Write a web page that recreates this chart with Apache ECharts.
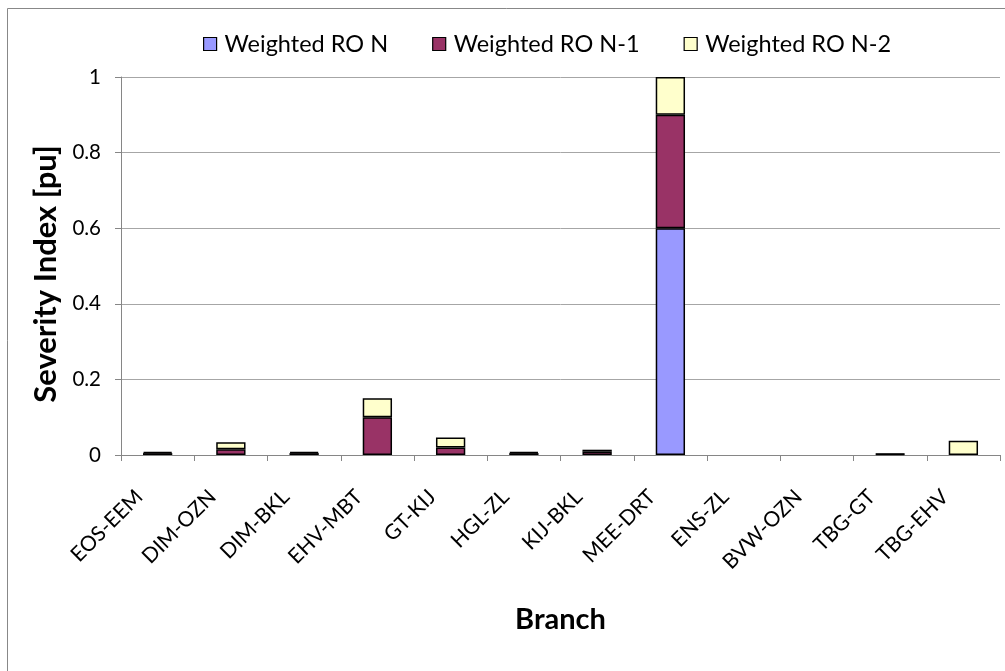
<!DOCTYPE html>
<html>
<head>
<meta charset="utf-8">
<script src="https://cdn.jsdelivr.net/npm/echarts@6/dist/echarts.min.js"></script>
<style>
html,body{margin:0;padding:0;background:#fff;}
#chart{width:1005px;height:671px;}
</style>
</head>
<body>
<div id="chart"></div>
<script>
const categories = ['EOS-EEM','DIM-OZN','DIM-BKL','EHV-MBT','GT-KIJ','HGL-ZL','KIJ-BKL','MEE-DRT','ENS-ZL','BVW-OZN','TBG-GT','TBG-EHV'];
const seriesNames = ['Weighted RO N','Weighted RO N-1','Weighted RO N-2'];
const roN  = [0, 0, 0, 0, 0, 0, 0, 0.6, 0, 0, 0, 0];
const roN1 = [0.005, 0.015, 0.005, 0.1, 0.02, 0.005, 0.009, 0.3, 0, 0, 0.002, 0];
const roN2 = [0.003, 0.019, 0.003, 0.05, 0.026, 0.003, 0.005, 0.1, 0, 0, 0.001, 0.038];
const yTicks = [0, 0.2, 0.4, 0.6, 0.8, 1];

const colors = ['#9999FF', '#993366', '#FFFFCC'];
const font = 'Lato, "Open Sans", sans-serif';

const chart = echarts.init(document.getElementById('chart'), null, {renderer: 'canvas'});
const values = [roN, roN1, roN2];
chart.setOption({
  animation: false,
  backgroundColor: '#fff',
  graphic: [{
    type: 'rect',
    shape: {x: 7.5, y: 8.5, width: 1010, height: 680},
    style: {fill: 'none', stroke: '#888', lineWidth: 1},
    silent: true
  }],
  legend: {
    top: 27,
    left: 198,
    icon: 'rect',
    itemWidth: 13,
    itemHeight: 13,
    itemGap: 44,
    textStyle: {fontFamily: font, fontSize: 23.5, color: '#000', padding: [0, 0, 0, 3]},
    data: seriesNames.map((n, i) => ({name: n, itemStyle: {color: colors[i], borderColor: '#000', borderWidth: 1.2}}))
  },
  grid: {left: 121, top: 77, right: 5, bottom: 216, containLabel: false},
  xAxis: {
    type: 'category',
    data: categories,
    name: 'Branch',
    nameLocation: 'middle',
    nameGap: 150,
    nameTextStyle: {fontFamily: font, fontSize: 29, fontWeight: 'bold', color: '#000'},
    axisLine: {lineStyle: {color: '#868686', width: 1}},
    axisTick: {show: true, alignWithLabel: false, length: 6, lineStyle: {color: '#868686'}},
    axisLabel: {rotate: 45, fontFamily: font, fontSize: 21, color: '#000', margin: 20, interval: 0, padding: [0, 26, 0, 0]}
  },
  yAxis: {
    type: 'value',
    min: 0,
    max: 1,
    interval: 0.2,
    name: 'Severity Index [pu]',
    nameLocation: 'middle',
    nameGap: 59,
    nameTextStyle: {fontFamily: font, fontSize: 31, fontWeight: 'bold', color: '#000', padding: [0, 16, 0, 0]},
    axisLine: {show: true, lineStyle: {color: '#868686', width: 1}},
    axisTick: {show: true, length: 6, lineStyle: {color: '#868686'}},
    splitLine: {lineStyle: {color: '#a6a6a6', width: 1}},
    axisLabel: {
      fontFamily: font, fontSize: 20.5, color: '#000', margin: 20,
      formatter: v => {
        const t = yTicks.find(x => Math.abs(x - v) < 1e-9);
        return t === undefined ? '' : String(t);
      }
    }
  },
  series: seriesNames.map((n, i) => ({
    name: n,
    type: 'bar',
    stack: 'total',
    barWidth: '40%',
    data: values[i].map(v => (v === 0 ? '-' : v)),
    itemStyle: {color: colors[i], borderColor: '#000', borderWidth: 1.5}
  }))
});
</script>
</body>
</html>
